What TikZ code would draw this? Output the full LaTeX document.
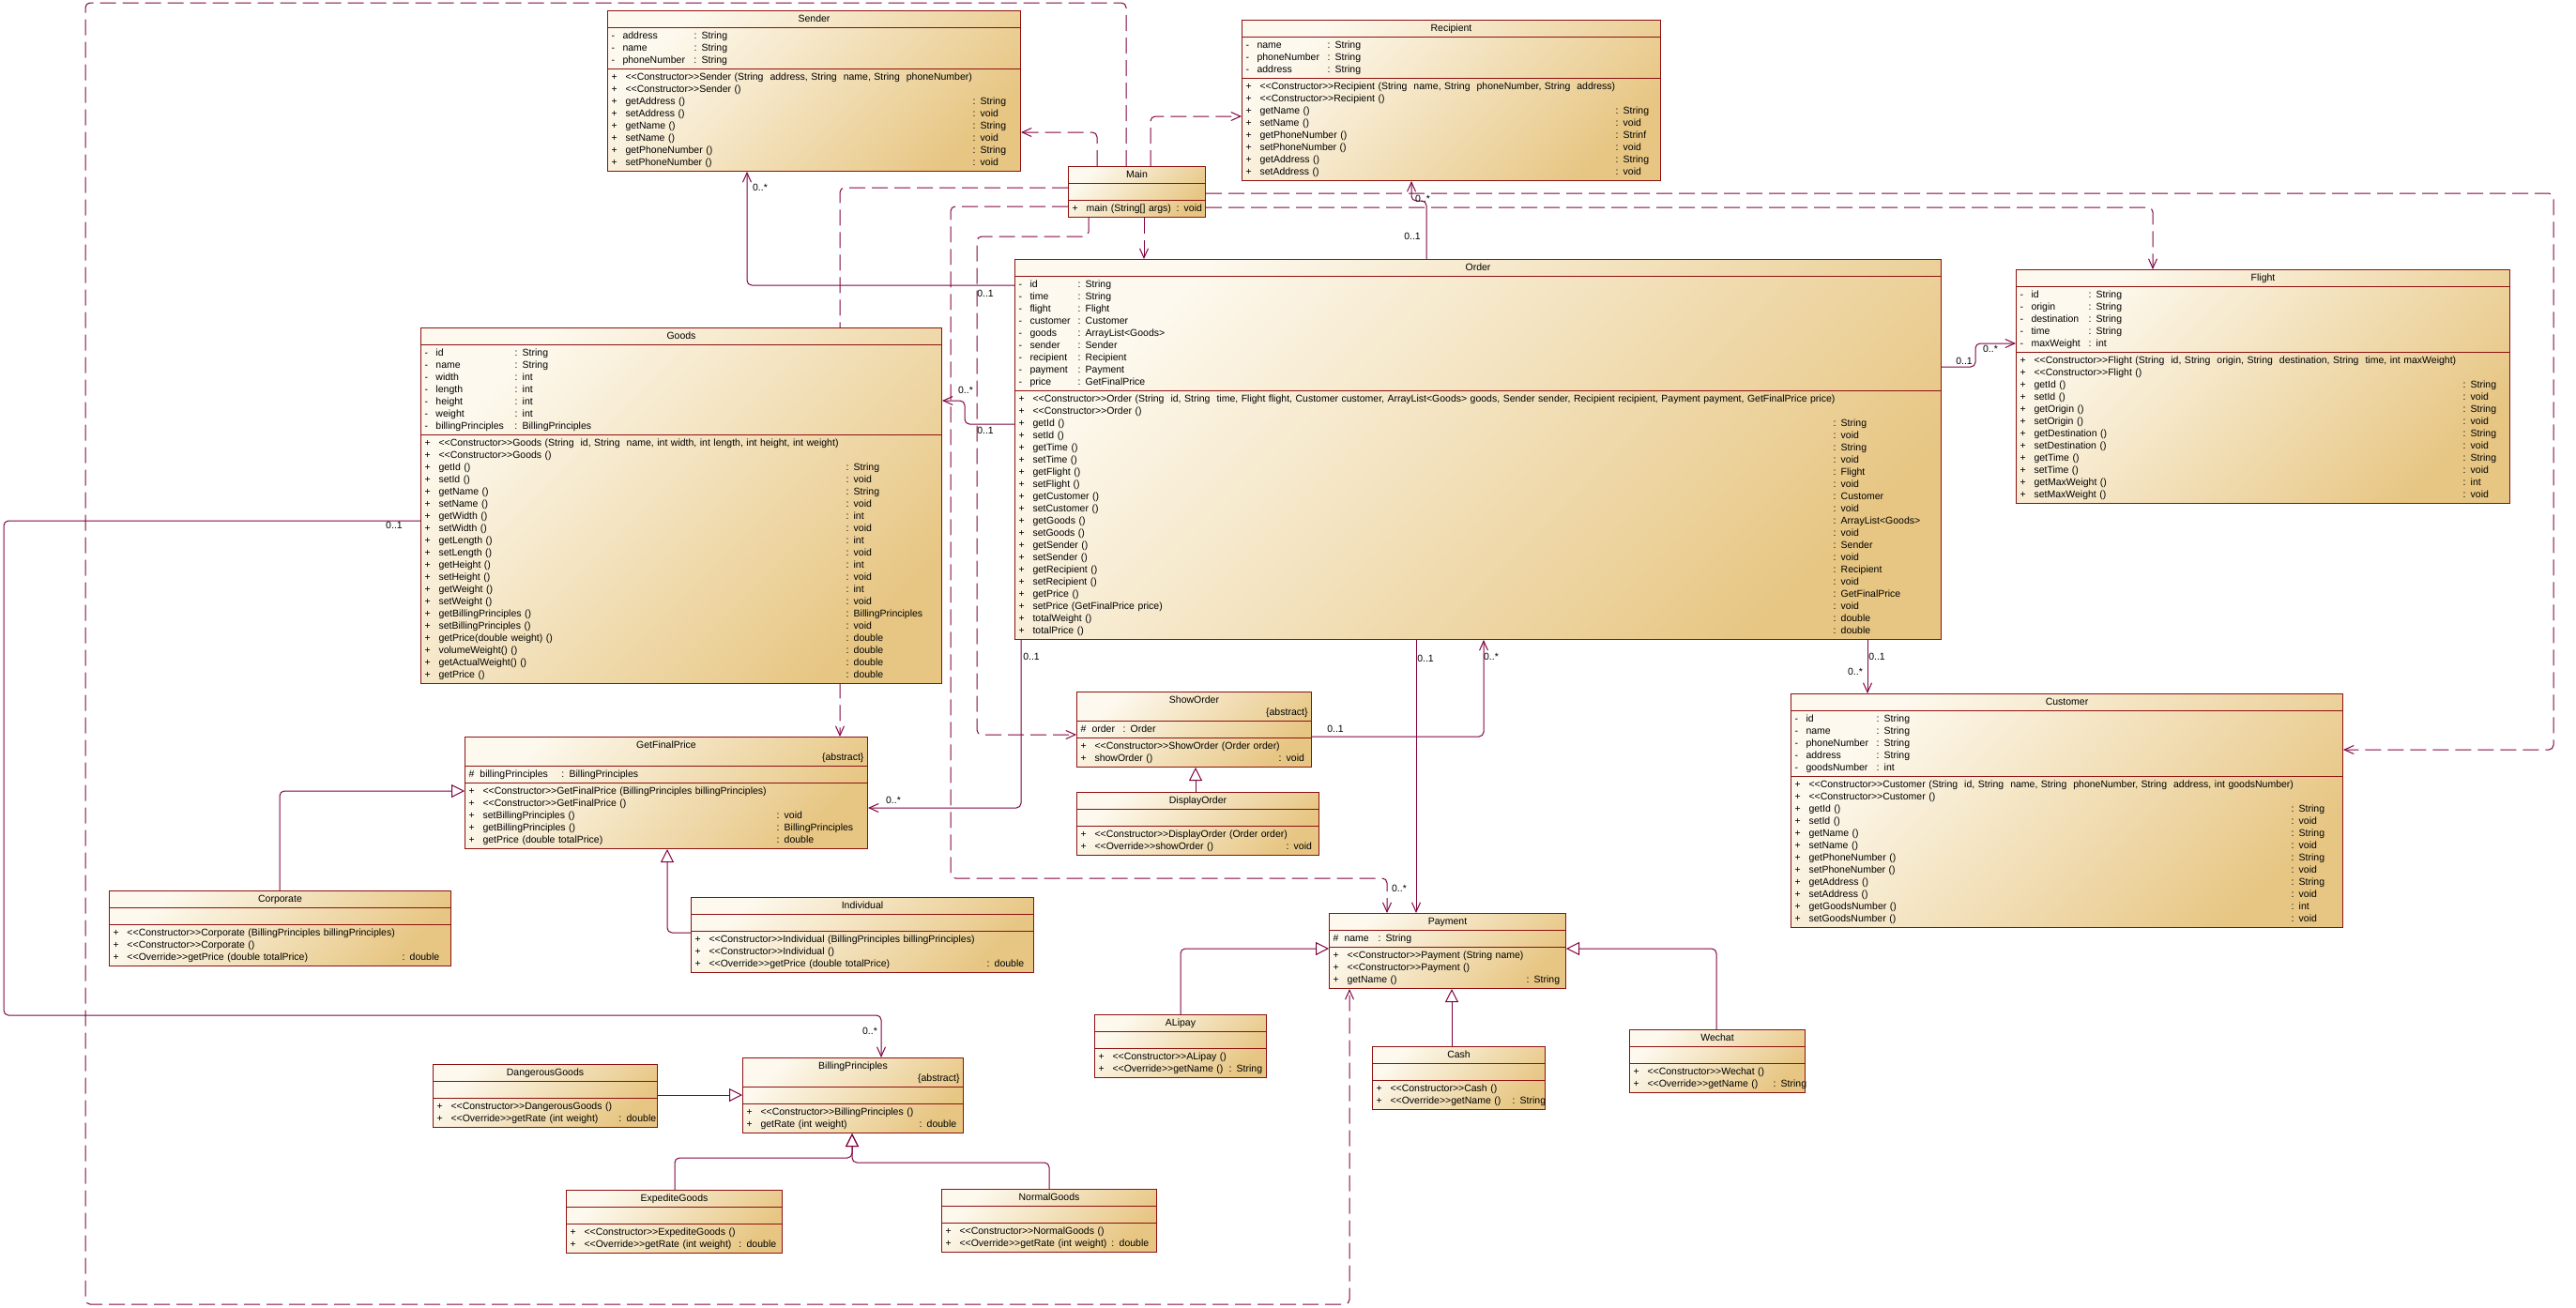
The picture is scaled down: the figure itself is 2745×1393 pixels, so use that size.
\documentclass[tikz,border=0pt]{standalone}
\usepackage{fontspec}
\setmainfont{Liberation Sans}
\usepackage{array}
\usetikzlibrary{arrows.meta,shapes.multipart}
\pgfdeclarelayer{background}
\pgfsetlayers{background,main}
\definecolor{boxline}{RGB}{140,16,16}
\definecolor{connline}{RGB}{128,0,64}
\definecolor{fillhi}{RGB}{253,249,238}
\definecolor{filllo}{RGB}{231,198,131}
\newcommand{\stereo}[1]{<{}<#1>{}>}
\newcommand{\ctitle}[1]{\strut\hfill #1\hfill\strut}
\newcommand{\atitle}[1]{\strut\hfill #1\hfill\strut\par\strut\hfill\{abstract\}}
\newcommand{\attrs}[2]{\begin{tabular}{@{}p{12pt}@{}>{\hbox to #1\bgroup}l<{\hss\egroup}@{}l@{}}#2\end{tabular}}
\newcommand{\ops}[2]{\begin{tabular}{@{}p{15pt}@{}>{\hbox to #1\bgroup}l<{\hss\egroup}@{}l@{}}#2\end{tabular}}

\begin{document}
\begin{tikzpicture}[x=1pt, y=-1pt,
  umlclass/.style={rectangle split, rectangle split parts=3, draw=boxline, line width=1pt,
    top color=fillhi, bottom color=filllo, shading angle=45, anchor=north west,
    inner xsep=4pt, inner ysep=2pt, font=\fontsize{10.5}{13}\selectfont},
  mult/.style={font=\fontsize{10.5}{13}\selectfont, inner sep=0pt},
  dep/.style={draw=connline, line width=1pt, dash pattern=on 17pt off 7pt, rounded corners=5pt,
    -{Straight Barb[length=10pt, width=9pt]}},
  assoc/.style={draw=connline, line width=1pt, rounded corners=5pt, -{Straight Barb[length=10pt, width=9pt]}},
  inherit/.style={draw=connline, line width=1pt, rounded corners=5pt, -{Triangle[open, length=14pt, width=14pt]}}
]
\useasboundingbox (0,0) rectangle (2745,1393);

\node[umlclass, text width=432pt] (sender) at (647,11) {\ctitle{Sender}
  \nodepart{second}\attrs{76pt}{- & address & : String\\
    - & name & : String\\
    - & phoneNumber & : String}
  \nodepart{third}\ops{370pt}{+ & \stereo{Constructor}Sender (String~ address, String~ name, String~ phoneNumber) & \\
    + & \stereo{Constructor}Sender () & \\
    + & getAddress () & : String\\
    + & setAddress () & : void\\
    + & getName () & : String\\
    + & setName () & : void\\
    + & getPhoneNumber () & : String\\
    + & setPhoneNumber () & : void}};

\node[umlclass, text width=438pt] (recipient) at (1323,21) {\ctitle{Recipient}
  \nodepart{second}\attrs{75pt}{- & name & : String\\
    - & phoneNumber & : String\\
    - & address & : String}
  \nodepart{third}\ops{379pt}{+ & \stereo{Constructor}Recipient (String~ name, String~ phoneNumber, String~ address) & \\
    + & \stereo{Constructor}Recipient () & \\
    + & getName () & : String\\
    + & setName () & : void\\
    + & getPhoneNumber () & : Strinf\\
    + & setPhoneNumber () & : void\\
    + & getAddress () & : String\\
    + & setAddress () & : void}};

\node[umlclass, text width=138pt] (main) at (1138,177) {\ctitle{Main}
  \nodepart{second}\strut
  \nodepart{third}\ops{96pt}{+ & main (String[] args) & : void}};

\node[umlclass, text width=547pt] (goods) at (448,349) {\ctitle{Goods}
  \nodepart{second}\attrs{84pt}{- & id & : String\\
    - & name & : String\\
    - & width & : int\\
    - & length & : int\\
    - & height & : int\\
    - & weight & : int\\
    - & billingPrinciples & : BillingPrinciples}
  \nodepart{third}\ops{434pt}{+ & \stereo{Constructor}Goods (String~ id, String~ name, int width, int length, int height, int weight) & \\
    + & \stereo{Constructor}Goods () & \\
    + & getId () & : String\\
    + & setId () & : void\\
    + & getName () & : String\\
    + & setName () & : void\\
    + & getWidth () & : int\\
    + & setWidth () & : void\\
    + & getLength () & : int\\
    + & setLength () & : void\\
    + & getHeight () & : int\\
    + & setHeight () & : void\\
    + & getWeight () & : int\\
    + & setWeight () & : void\\
    + & getBillingPrinciples () & : BillingPrinciples\\
    + & setBillingPrinciples () & : void\\
    + & getPrice(double weight) () & : double\\
    + & volumeWeight() () & : double\\
    + & getActualWeight() () & : double\\
    + & getPrice () & : double}};

\node[umlclass, text width=979pt] (order) at (1081,276) {\ctitle{Order}
  \nodepart{second}\attrs{51pt}{- & id & : String\\
    - & time & : String\\
    - & flight & : Flight\\
    - & customer & : Customer\\
    - & goods & : ArrayList<Goods>\\
    - & sender & : Sender\\
    - & recipient & : Recipient\\
    - & payment & : Payment\\
    - & price & : GetFinalPrice}
  \nodepart{third}\ops{853pt}{+ & \stereo{Constructor}Order (String~ id, String~ time, Flight flight, Customer customer, ArrayList<Goods> goods, Sender sender, Recipient recipient, Payment payment, GetFinalPrice price) & \\
    + & \stereo{Constructor}Order () & \\
    + & getId () & : String\\
    + & setId () & : void\\
    + & getTime () & : String\\
    + & setTime () & : void\\
    + & getFlight () & : Flight\\
    + & setFlight () & : void\\
    + & getCustomer () & : Customer\\
    + & setCustomer () & : void\\
    + & getGoods () & : ArrayList<Goods>\\
    + & setGoods () & : void\\
    + & getSender () & : Sender\\
    + & setSender () & : void\\
    + & getRecipient () & : Recipient\\
    + & setRecipient () & : void\\
    + & getPrice () & : GetFinalPrice\\
    + & setPrice (GetFinalPrice price) & : void\\
    + & totalWeight () & : double\\
    + & totalPrice () & : double}};

\node[umlclass, text width=518pt] (flight) at (2148,287) {\ctitle{Flight}
  \nodepart{second}\attrs{61pt}{- & id & : String\\
    - & origin & : String\\
    - & destination & : String\\
    - & time & : String\\
    - & maxWeight & : int}
  \nodepart{third}\ops{457pt}{+ & \stereo{Constructor}Flight (String~ id, String~ origin, String~ destination, String~ time, int maxWeight) & \\
    + & \stereo{Constructor}Flight () & \\
    + & getId () & : String\\
    + & setId () & : void\\
    + & getOrigin () & : String\\
    + & setOrigin () & : void\\
    + & getDestination () & : String\\
    + & setDestination () & : void\\
    + & getTime () & : String\\
    + & setTime () & : void\\
    + & getMaxWeight () & : int\\
    + & setMaxWeight () & : void}};

\node[umlclass, text width=580pt] (customer) at (1908,739) {\ctitle{Customer}
  \nodepart{second}\attrs{75pt}{- & id & : String\\
    - & name & : String\\
    - & phoneNumber & : String\\
    - & address & : String\\
    - & goodsNumber & : int}
  \nodepart{third}\ops{514pt}{+ & \stereo{Constructor}Customer (String~ id, String~ name, String~ phoneNumber, String~ address, int goodsNumber) & \\
    + & \stereo{Constructor}Customer () & \\
    + & getId () & : String\\
    + & setId () & : void\\
    + & getName () & : String\\
    + & setName () & : void\\
    + & getPhoneNumber () & : String\\
    + & setPhoneNumber () & : void\\
    + & getAddress () & : String\\
    + & setAddress () & : void\\
    + & getGoodsNumber () & : int\\
    + & setGoodsNumber () & : void}};

\node[umlclass, text width=421pt] (getfinalprice) at (495,785) {\atitle{GetFinalPrice}
  \nodepart{second}\attrs{87pt}{\# & billingPrinciples & : BillingPrinciples}
  \nodepart{third}\ops{313pt}{+ & \stereo{Constructor}GetFinalPrice (BillingPrinciples billingPrinciples) & \\
    + & \stereo{Constructor}GetFinalPrice () & \\
    + & setBillingPrinciples () & : void\\
    + & getBillingPrinciples () & : BillingPrinciples\\
    + & getPrice (double totalPrice) & : double}};

\node[umlclass, text width=242pt] (showorder) at (1147,737) {\atitle{ShowOrder}
  \nodepart{second}\attrs{33pt}{\# & order & : Order}
  \nodepart{third}\ops{196pt}{+ & \stereo{Constructor}ShowOrder (Order order) & \\
    + & showOrder () & : void}};

\node[umlclass, text width=250pt] (displayorder) at (1147,844) {\ctitle{DisplayOrder}
  \nodepart{second}\strut
  \nodepart{third}\ops{204pt}{+ & \stereo{Constructor}DisplayOrder (Order order) & \\
    + & \stereo{Override}showOrder () & : void}};

\node[umlclass, text width=356pt] (corporate) at (116,949) {\ctitle{Corporate}
  \nodepart{second}\strut
  \nodepart{third}\ops{293pt}{+ & \stereo{Constructor}Corporate (BillingPrinciples billingPrinciples) & \\
    + & \stereo{Constructor}Corporate () & \\
    + & \stereo{Override}getPrice (double totalPrice) & : double}};

\node[umlclass, text width=357pt] (individual) at (736,956) {\ctitle{Individual}
  \nodepart{second}\strut
  \nodepart{third}\ops{296pt}{+ & \stereo{Constructor}Individual (BillingPrinciples billingPrinciples) & \\
    + & \stereo{Constructor}Individual () & \\
    + & \stereo{Override}getPrice (double totalPrice) & : double}};

\node[umlclass, text width=244pt] (payment) at (1416,973) {\ctitle{Payment}
  \nodepart{second}\attrs{36pt}{\# & name & : String}
  \nodepart{third}\ops{191pt}{+ & \stereo{Constructor}Payment (String name) & \\
    + & \stereo{Constructor}Payment () & \\
    + & getName () & : String}};

\node[umlclass, text width=175pt] (alipay) at (1166,1081) {\ctitle{ALipay}
  \nodepart{second}\strut
  \nodepart{third}\ops{124pt}{+ & \stereo{Constructor}ALipay () & \\
    + & \stereo{Override}getName () & : String}};

\node[umlclass, text width=176pt] (cash) at (1462,1115) {\ctitle{Cash}
  \nodepart{second}\strut
  \nodepart{third}\ops{130pt}{+ & \stereo{Constructor}Cash () & \\
    + & \stereo{Override}getName () & : String}};

\node[umlclass, text width=179pt] (wechat) at (1736,1097) {\ctitle{Wechat}
  \nodepart{second}\strut
  \nodepart{third}\ops{134pt}{+ & \stereo{Constructor}Wechat () & \\
    + & \stereo{Override}getName () & : String}};

\node[umlclass, text width=231pt] (dangerousgoods) at (461,1134) {\ctitle{DangerousGoods}
  \nodepart{second}\strut
  \nodepart{third}\ops{179pt}{+ & \stereo{Constructor}DangerousGoods () & \\
    + & \stereo{Override}getRate (int weight) & : double}};

\node[umlclass, text width=227pt] (billing) at (791,1127) {\atitle{BillingPrinciples}
  \nodepart{second}\strut
  \nodepart{third}\ops{169pt}{+ & \stereo{Constructor}BillingPrinciples () & \\
    + & getRate (int weight) & : double}};

\node[umlclass, text width=222pt] (expedite) at (603,1268) {\ctitle{ExpediteGoods}
  \nodepart{second}\strut
  \nodepart{third}\ops{165pt}{+ & \stereo{Constructor}ExpediteGoods () & \\
    + & \stereo{Override}getRate (int weight) & : double}};

\node[umlclass, text width=221pt] (normal) at (1003,1267) {\ctitle{NormalGoods}
  \nodepart{second}\strut
  \nodepart{third}\ops{162pt}{+ & \stereo{Constructor}NormalGoods () & \\
    + & \stereo{Override}getRate (int weight) & : double}};

\node[mult] (msender) at (810,200) {0..*};
\node[mult] (mordersender) at (1050,313) {0..1};
\node[mult] (mrecipient) at (1516,212) {0..*};
\node[mult] (morderrecipient) at (1505,252) {0..1};
\node[mult] (mgoods) at (1029,416) {0..*};
\node[mult] (mordergoods) at (1050,459) {0..1};
\node[mult] (mprice) at (952,853) {0..*};
\node[mult] (morderprice) at (1099,700) {0..1};
\node[mult] (mpayment) at (1491,947) {0..*};
\node[mult] (morderpayment) at (1519,702) {0..1};
\node[mult] (mshoworder) at (1423,777) {0..1};
\node[mult] (mordershow) at (1589,700) {0..*};
\node[mult] (mordercustomer) at (2000,700) {0..1};
\node[mult] (mcustomer) at (1977,716) {0..*};
\node[mult] (morderflight) at (2093,385) {0..1};
\node[mult] (mflight) at (2121,372) {0..*};
\node[mult] (mgoodsbill) at (420,560) {0..1};
\node[mult] (mbilling) at (927,1099) {0..*};

\begin{pgfonlayer}{background}
\fill[white] (0,0) rectangle (2745,1393);
\draw[dep] (main.north -| 1169,0) |- (sender.east |- 0,141);
\draw[dep] (main.north -| 1226,0) |- (recipient.west |- 0,124);
\draw[dep] (main.south -| 1219,0) -- (order.north -| 1219,0);
\draw[dep] (main.north -| 1200,0) -- (1200,3) -- (91,3) -- (91,1390) -- (1438,1390) -- (payment.south -| 1438,0);
\draw[dep] (main.west |- 0,200) -| (getfinalprice.north -| 895,0);
\draw[dep] (main.west |- 0,220) -| (1013,936) -| (payment.north -| 1478,0);
\draw[dep] (main.south -| 1160,0) |- (1041,252) |- (showorder.west |- 0,783);
\draw[dep] (main.east |- 0,206) -| (2721,799) -- (customer.east |- 0,799);
\draw[dep] (main.east |- 0,221) -| (flight.north -| 2294,0);

\draw[assoc] (order.west |- 0,304) -| (sender.south -| 796,0);
\draw[assoc] (order.north -| 1520,0) |- (1504,214) -- (recipient.south -| 1504,0);
\draw[assoc] (order.west |- 0,452) -| (1028,427) -- (goods.east |- 0,427);
\draw[assoc] (order.south -| 1088,0) |- (getfinalprice.east |- 0,861);
\draw[assoc] (order.south -| 1509,0) -- (payment.north -| 1509,0);
\draw[assoc] (showorder.east |- 0,785) -| (order.south -| 1581,0);
\draw[assoc] (order.south -| 1990,0) -- (customer.north -| 1990,0);
\draw[assoc] (order.east |- 0,391) -| (2105,366) -- (flight.west |- 0,366);
\draw[assoc] (goods.west |- 0,555) -| (4,1082) -| (billing.north -| 939,0);

\draw[inherit] (corporate.north -| 298,0) |- (getfinalprice.west |- 0,843);
\draw[inherit] (individual.west |- 0,994) -| (getfinalprice.south -| 711,0);
\draw[inherit] (displayorder.north -| 1274,0) -- (showorder.south -| 1274,0);
\draw[inherit] (alipay.north -| 1258,0) |- (payment.west |- 0,1011);
\draw[inherit] (cash.north -| 1547,0) -- (payment.south -| 1547,0);
\draw[inherit] (wechat.north -| 1829,0) |- (payment.east |- 0,1011);
\draw[inherit] (dangerousgoods.east |- 0,1167) -- (billing.west |- 0,1167);
\draw[inherit] (expedite.north -| 719,0) |- (908,1234) -- (billing.south -| 908,0);
\draw[inherit] (normal.north -| 1118,0) |- (908,1239) -- (billing.south -| 908,0);
\end{pgfonlayer}
\end{tikzpicture}
\end{document}
